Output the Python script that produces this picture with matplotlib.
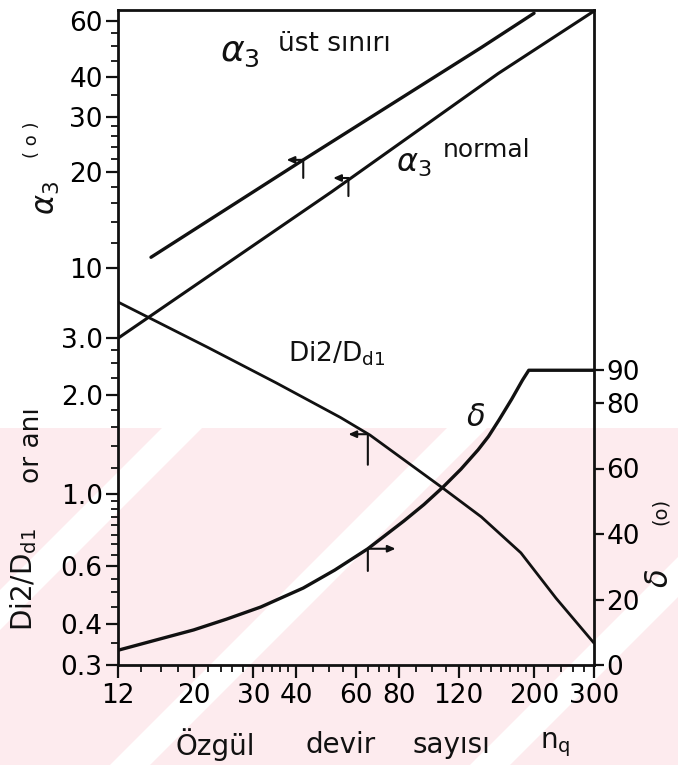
import matplotlib.pyplot as plt
from matplotlib.patches import Polygon
from matplotlib.ticker import FixedLocator, NullFormatter

plt.rcParams['font.family'] = 'DejaVu Sans'
plt.rcParams['mathtext.fontset'] = 'dejavusans'

# --- data ---
nq_ust = [15, 42, 140, 200]                 # alpha3 upper limit
alpha_ust = [10.8, 21.9, 49.5, 63.5]
nq_norm = [12, 51, 157, 300]                # alpha3 normal
alpha_norm = [6.0, 17.4, 41.0, 64.5]
nq_ratio = [12, 22, 35, 54, 66, 108, 140, 183, 232, 300]   # Di2/Dd1
ratio = [3.85, 2.80, 2.18, 1.71, 1.51, 1.04, 0.85, 0.66, 0.48, 0.35]
nq_delta = [12, 16, 20, 25, 31.5, 42, 52, 65, 83, 95, 108, 122, 137, 147, 158, 172, 185, 193, 300]
delta = [4.5, 8.0, 10.7, 14.0, 17.7, 23.5, 29.0, 35.5, 44.0, 49.0, 54.3, 59.8, 65.7, 69.8, 74.9, 81.2, 87.0, 90, 90]

# axis markers (which scale a curve belongs to)
mark_nq = [42, 57, 65, 65]
mark_val = [21.9, 19.2, 1.52, 35.5]

x_ticks = [12, 20, 30, 40, 60, 80, 120, 200, 300]
x_minor = [14, 16, 18, 22, 24, 26, 28, 32, 34, 36, 38, 45, 50, 55, 65, 70, 75,
           90, 100, 110, 130, 140, 150, 160, 170, 180, 190, 220, 240, 260, 280]
alpha_ticks = [10, 20, 30, 40, 60]
alpha_minor = [12, 14, 16, 18, 22, 24, 26, 28, 35, 45, 50, 55]
ratio_ticks = [0.3, 0.4, 0.6, 1.0, 2.0, 3.0]
ratio_labels = ['0.3', '0.4', '0.6', '1.0', '2.0', '3.0']
ratio_minor = [0.35, 0.45, 0.5, 0.55, 0.65, 0.7, 0.75, 0.8, 0.85, 0.9, 0.95,
               1.2, 1.4, 1.6, 1.8, 2.25, 2.5, 2.75]
delta_ticks = [0, 20, 40, 60, 80, 90]

W, H = 678, 771
ink = '#111111'


def fx(px):
    return px / W


def fy(py):
    return 1 - py / H


fig = plt.figure(figsize=(6.78, 7.71), dpi=100)

# faint pink watermark band behind the lower part
pink = '#fdebee'
fig.patches.append(Polygon([(fx(0), fy(428)), (fx(678), fy(428)), (fx(678), fy(765)), (fx(0), fy(765))],
                           closed=True, transform=fig.transFigure, facecolor=pink,
                           edgecolor='none', zorder=-3))
for x0 in [-175, 110, 470]:
    fig.patches.append(Polygon([(fx(x0), fy(765)), (fx(x0 + 40), fy(765)),
                                (fx(x0 + 40 + 337), fy(428)), (fx(x0 + 337), fy(428))],
                               closed=True, transform=fig.transFigure, facecolor='white',
                               edgecolor='none', zorder=-2))

rect = [fx(118), fy(665), fx(594) - fx(118), fy(10) - fy(665)]

# Di2/Dd1 axis (owns the frame and the x axis)
ax = fig.add_axes(rect)
ax.patch.set_visible(False)
ax.set_xscale('log')
ax.set_yscale('log')
ax.set_xlim(12, 300)
ax.set_ylim(0.3, 30)
for s in ax.spines.values():
    s.set_linewidth(2.0)
    s.set_color(ink)

ax.xaxis.set_major_locator(FixedLocator(x_ticks))
ax.set_xticklabels([str(v) for v in x_ticks])
ax.xaxis.set_minor_locator(FixedLocator(x_minor))
ax.xaxis.set_minor_formatter(NullFormatter())
ax.yaxis.set_major_locator(FixedLocator(ratio_ticks))
ax.set_yticklabels(ratio_labels)
ax.yaxis.set_minor_locator(FixedLocator(ratio_minor))
ax.yaxis.set_minor_formatter(NullFormatter())
ax.tick_params(which='major', direction='out', length=9, width=1.6, labelsize=19, pad=2, color=ink)
ax.tick_params(which='minor', direction='out', length=5, width=1.3, color=ink)
ax.tick_params(axis='x', which='major', pad=4)

ax.plot(nq_ratio, ratio, color=ink, lw=2.0, solid_capstyle='round', solid_joinstyle='round')

# alpha3 axis (upper left scale)
ax_a = fig.add_axes(rect, sharex=ax)
ax_a.patch.set_visible(False)
for s in ax_a.spines.values():
    s.set_visible(False)
ax_a.set_yscale('log')
ax_a.set_ylim(0.56, 65)
ax_a.yaxis.set_major_locator(FixedLocator(alpha_ticks))
ax_a.set_yticklabels([str(v) for v in alpha_ticks])
ax_a.yaxis.set_minor_locator(FixedLocator(alpha_minor))
ax_a.yaxis.set_minor_formatter(NullFormatter())
ax_a.tick_params(axis='x', which='both', bottom=False, labelbottom=False)
ax_a.tick_params(axis='y', which='major', direction='out', length=9, width=1.6, labelsize=19, pad=2, color=ink)
ax_a.tick_params(axis='y', which='minor', direction='out', length=5, width=1.3, color=ink)

ax_a.plot(nq_ust, alpha_ust, color=ink, lw=2.4, solid_capstyle='round')
ax_a.plot(nq_norm, alpha_norm, color=ink, lw=2.2, solid_capstyle='round')

# delta axis (right)
ax_s = ax.twinx()
ax_s.patch.set_visible(False)
for s in ax_s.spines.values():
    s.set_visible(False)
ax_s.set_ylim(0, 200)
ax_s.yaxis.set_major_locator(FixedLocator(delta_ticks))
ax_s.set_yticklabels([str(v) for v in delta_ticks])
ax_s.tick_params(axis='y', direction='out', length=7, width=1.6, labelsize=19, pad=2, color=ink)
ax_s.plot(nq_delta, delta, color=ink, lw=2.4, solid_capstyle='round', solid_joinstyle='round')

# little axis pointers on each curve
arrow_specs = [(ax_a, (-12, 0), (0, -13)),
               (ax_a, (-11, 0), (0, -13)),
               (ax, (-14, 0), (0, -22)),
               (ax_s, (20, 0), (0, -16))]
for (a, head, tail), x, y in zip(arrow_specs, mark_nq, mark_val):
    a.annotate('', xy=(x, y), xytext=head, textcoords='offset points',
               arrowprops=dict(arrowstyle='<|-,head_length=0.45,head_width=0.2',
                               color=ink, lw=1.5, shrinkA=0, shrinkB=0))
    a.annotate('', xy=(x, y), xytext=tail, textcoords='offset points',
               arrowprops=dict(arrowstyle='-', color=ink, lw=1.5, shrinkA=0, shrinkB=0))

# curve labels
fig.text(fx(220), fy(52), r'$\alpha_3$', fontsize=26, ha='left', va='center', color=ink)
fig.text(fx(278), fy(44), 'üst sınırı', fontsize=19, ha='left', va='center', color=ink)
fig.text(fx(396), fy(163), r'$\alpha_3$', fontsize=23, ha='left', va='center', color=ink)
fig.text(fx(443), fy(150), 'normal', fontsize=18, ha='left', va='center', color=ink)
fig.text(fx(288), fy(354), r'Di2/D$_{\rm d1}$', fontsize=19, ha='left', va='center', color=ink)
fig.text(fx(476), fy(418), r'$\delta$', fontsize=22, ha='center', va='center', color=ink)

# axis titles
fig.text(fx(47), fy(198), r'$\alpha_3$', fontsize=22, rotation=90, ha='center', va='center', color=ink)
fig.text(fx(32), fy(140), '( o )', fontsize=13, rotation=90, ha='center', va='center', color=ink)
fig.text(fx(24), fy(580), r'Di2/D$_{\rm d1}$', fontsize=20, rotation=90, ha='center', va='center', color=ink)
fig.text(fx(32), fy(445), 'or anı', fontsize=19, rotation=90, ha='center', va='center', color=ink)
fig.text(fx(660), fy(511), '(o)', fontsize=14, rotation=90, ha='center', va='center', color=ink)
fig.text(fx(660), fy(578), r'$\delta$', fontsize=22, rotation=90, ha='center', va='center', color=ink)

for word, xc in [('Özgül', 215), ('devir', 341), ('sayısı', 451), (r'n$_{\rm q}$', 555)]:
    fig.text(fx(xc), fy(745), word, fontsize=20, ha='center', va='center', color=ink)

fig.savefig('out.png', dpi=100)
